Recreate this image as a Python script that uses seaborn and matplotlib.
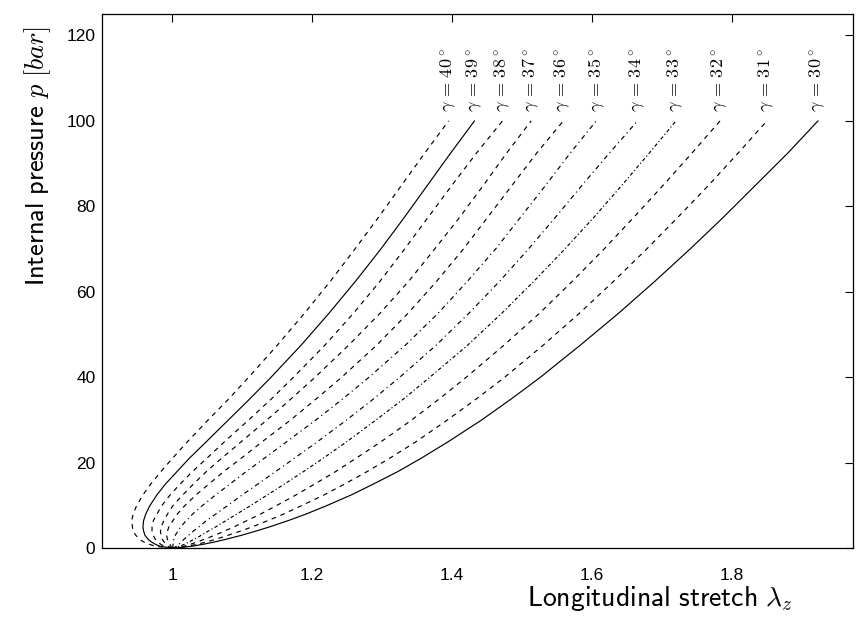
import matplotlib
matplotlib.use("Agg")
import matplotlib.pyplot as plt
import seaborn as sns

sns.set_theme(style="white")
plt.rcParams["mathtext.fontset"] = "cm"
plt.rcParams["font.family"] = ["Liberation Sans", "DejaVu Sans"]

# internal pressure levels (bar)
pressure = [0, 0.5, 1, 1.5, 2, 3, 4, 5, 6.5, 8, 10, 12.5, 15, 18, 21, 25, 30, 35, 40,
            47.5, 55, 62.5, 70, 77.5, 85, 92.5, 100]

# longitudinal stretch lambda_z for each fibre winding angle gamma
stretch_40 = [1.000, 0.975, 0.966, 0.959, 0.954, 0.948, 0.944, 0.943, 0.942, 0.944, 0.949, 0.958, 0.969, 0.984, 1.000, 1.022, 1.051, 1.081, 1.109, 1.150, 1.189, 1.226, 1.261, 1.295, 1.328, 1.361, 1.395]
stretch_39 = [1.000, 0.982, 0.975, 0.970, 0.966, 0.961, 0.959, 0.958, 0.959, 0.962, 0.968, 0.978, 0.990, 1.007, 1.024, 1.049, 1.080, 1.111, 1.141, 1.184, 1.224, 1.262, 1.298, 1.332, 1.365, 1.398, 1.432]
stretch_38 = [1.000, 0.988, 0.983, 0.979, 0.976, 0.973, 0.971, 0.971, 0.973, 0.978, 0.985, 0.997, 1.011, 1.029, 1.049, 1.075, 1.109, 1.142, 1.173, 1.218, 1.259, 1.297, 1.332, 1.366, 1.400, 1.435, 1.472]
stretch_37 = [1.000, 0.994, 0.991, 0.988, 0.986, 0.984, 0.983, 0.984, 0.988, 0.993, 1.001, 1.015, 1.030, 1.049, 1.070, 1.099, 1.135, 1.170, 1.204, 1.252, 1.297, 1.338, 1.375, 1.411, 1.445, 1.478, 1.513]
stretch_36 = [1.000, 0.998, 0.996, 0.994, 0.993, 0.992, 0.993, 0.995, 1.001, 1.007, 1.018, 1.034, 1.052, 1.074, 1.098, 1.129, 1.169, 1.206, 1.242, 1.292, 1.337, 1.378, 1.416, 1.451, 1.486, 1.521, 1.559]
stretch_35 = [1.000, 1.001, 1.001, 1.001, 1.002, 1.004, 1.008, 1.012, 1.020, 1.029, 1.043, 1.062, 1.082, 1.106, 1.131, 1.164, 1.205, 1.244, 1.281, 1.333, 1.380, 1.422, 1.462, 1.498, 1.534, 1.569, 1.606]
stretch_34 = [1.000, 1.007, 1.010, 1.013, 1.016, 1.023, 1.030, 1.038, 1.049, 1.062, 1.079, 1.100, 1.122, 1.148, 1.174, 1.208, 1.249, 1.288, 1.325, 1.377, 1.424, 1.468, 1.509, 1.548, 1.586, 1.625, 1.665]
stretch_33 = [1.000, 1.011, 1.018, 1.024, 1.030, 1.041, 1.051, 1.062, 1.077, 1.092, 1.112, 1.136, 1.160, 1.188, 1.215, 1.250, 1.291, 1.331, 1.368, 1.422, 1.471, 1.517, 1.561, 1.603, 1.643, 1.682, 1.720]
stretch_32 = [1.000, 1.017, 1.027, 1.036, 1.044, 1.060, 1.074, 1.088, 1.107, 1.126, 1.149, 1.177, 1.203, 1.234, 1.262, 1.299, 1.342, 1.382, 1.420, 1.474, 1.525, 1.572, 1.617, 1.660, 1.702, 1.743, 1.783]
stretch_31 = [1.000, 1.023, 1.037, 1.049, 1.060, 1.079, 1.097, 1.114, 1.137, 1.159, 1.185, 1.217, 1.246, 1.279, 1.310, 1.349, 1.393, 1.435, 1.475, 1.530, 1.582, 1.631, 1.678, 1.723, 1.767, 1.809, 1.850]
stretch_30 = [1.000, 1.029, 1.046, 1.061, 1.074, 1.098, 1.119, 1.139, 1.166, 1.191, 1.221, 1.256, 1.287, 1.323, 1.355, 1.395, 1.442, 1.485, 1.526, 1.583, 1.638, 1.690, 1.740, 1.788, 1.834, 1.880, 1.923]

angles = [40, 39, 38, 37, 36, 35, 34, 33, 32, 31, 30]
curves = [stretch_40, stretch_39, stretch_38, stretch_37, stretch_36, stretch_35,
          stretch_34, stretch_33, stretch_32, stretch_31, stretch_30]

x_ticks = [1, 1.2, 1.4, 1.6, 1.8]
x_tick_labels = ["1", "1.2", "1.4", "1.6", "1.8"]
y_ticks = [0, 20, 40, 60, 80, 100, 120]

dashed = (0, (4, 4))
dashdot = (0, (4, 3, 1, 3))
dotdash = (0, (3, 2, 1, 2))
styles = {40: dashed, 39: "-", 38: dashed, 37: dashed, 36: dashed, 35: dashdot,
          34: dashdot, 33: dotdash, 32: dashed, 31: dashed, 30: "-"}

fig = plt.figure(figsize=(8.58, 6.30), dpi=100)
ax = fig.add_axes([0.1193, 0.1297, 0.8749, 0.8481])

for gamma, lam in zip(angles, curves):
    sns.lineplot(x=lam, y=pressure, sort=False, estimator=None, ax=ax,
                 color="black", linewidth=0.85, linestyle=styles[gamma])
    # angle tag just above the end of each curve
    ax.text(lam[-1], pressure[-1] + 2, rf"$\gamma\,=\,{gamma}^\circ$",
            rotation=90, ha="center", va="bottom", fontsize=13, color="black")

ax.set_xlim(0.9, 1.973)
ax.set_ylim(0, 125)
ax.set_xticks(x_ticks)
ax.set_xticklabels(x_tick_labels)
ax.set_yticks(y_ticks)
ax.tick_params(direction="in", length=6, width=0.8, top=True, right=True,
               labelsize=12.5, colors="black")
ax.tick_params(axis="x", pad=14)
ax.tick_params(axis="y", pad=5)
for side in ax.spines.values():
    side.set_color("black")
    side.set_linewidth(0.9)

ax.set_xlabel(r"$\mathsf{Longitudinal\ stretch}\ \lambda_z$", fontsize=20, color="black")
ax.set_ylabel(r"$\mathsf{Internal\ pressure}\ p\ [bar]$", fontsize=19, color="black")
ax.xaxis.set_label_coords(0.743, -0.066)
ax.yaxis.set_label_coords(-0.066, 0.734)

fig.savefig("out.png", dpi=100)
